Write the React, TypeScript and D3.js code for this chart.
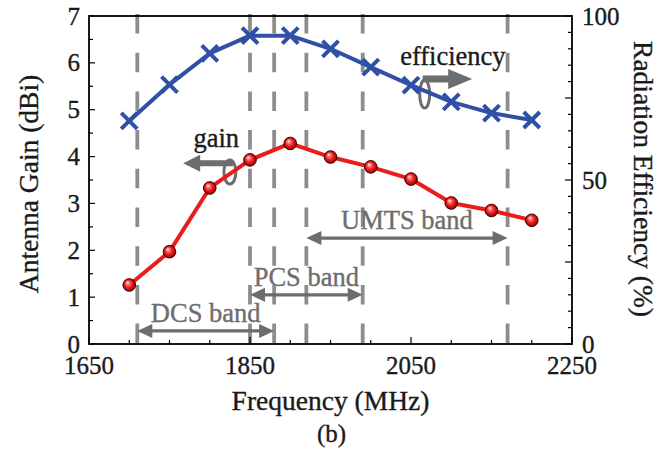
import React from "react";
import * as d3 from "d3";

// ---- data ----
const freqs = [1700, 1750, 1800, 1850, 1900, 1950, 2000, 2050, 2100, 2150, 2200];
const gain = [1.26, 1.97, 3.33, 3.93, 4.28, 3.99, 3.78, 3.52, 3.01, 2.85, 2.64];
const efficiency = [68.0, 79.1, 88.6, 94.0, 94.0, 90.0, 84.4, 78.9, 73.8, 70.4, 68.3];
const bandEdges = [1710, 1850, 1880, 1920, 1990, 2170];
const bandNames = ["DCS band", "PCS band", "UMTS band"];
const bandStarts = [1710, 1850, 1920];
const bandEnds = [1880, 1990, 2170];
const bandLevels = [0.28, 1.05, 2.26]; // gain units (annotation height)
const xTickLabels = [1650, 1850, 2050, 2250];
const yLeftTickLabels = [0, 1, 2, 3, 4, 5, 6, 7];
const yRightTickLabels = [0, 50, 100];

const W = 670;
const H = 450;
const L = 89, R = 572, T = 16, B = 344;
const FONT = "'Liberation Serif', 'Times New Roman', serif";
const GRAY = "#6d6d6d";
const DASH = "#8d8d8d";
const BLUE = "#2f50a6";
const RED = "#ec1c1c";
const INK = "#1a1a1a";

export default function App() {
  const x = d3.scaleLinear().domain([1650, 2250]).range([L, R]);
  const yL = d3.scaleLinear().domain([0, 7]).range([B, T]);
  const yR = d3.scaleLinear().domain([0, 100]).range([B, T]);

  const gainLine = d3.line<number>().x((_, i) => x(freqs[i])).y((d) => yL(d));
  const effLine = d3.line<number>().x((_, i) => x(freqs[i])).y((d) => yR(d));

  const xMinor = d3.range(1650, 2251, 50);
  const yLMinor = d3.range(0, 7.01, 0.5);
  const yRMinor = d3.range(0, 100.1, 5);

  const arrowH = (x1: number, x2: number, y: number, key: string) => {
    const hl = 15, hw = 7;
    return (
      <g key={key}>
        <line x1={x1 + hl - 2} x2={x2 - hl + 2} y1={y} y2={y} stroke={GRAY} strokeWidth={3.2} />
        <path d={`M${x1},${y} L${x1 + hl},${y - hw} L${x1 + hl},${y + hw} Z`} fill={GRAY} />
        <path d={`M${x2},${y} L${x2 - hl},${y - hw} L${x2 - hl},${y + hw} Z`} fill={GRAY} />
      </g>
    );
  };

  // gain annotation icon (points left)
  const gTipX = x(1767), gTipY = yL(3.86);
  const gLoopX = x(1825), gLoopY = yL(3.67);
  // efficiency annotation icon (points right)
  const eLoopX = x(2067), eLoopY = yR(76.2);
  const eTipX = x(2126), eTipY = yR(80.8);

  const ts = { stroke: INK, strokeWidth: 0.35 } as const;
  const gs = { stroke: GRAY, strokeWidth: 0.35 } as const;

  return (
    <div style={{ position: "absolute", left: 0, top: 0 }}>
      <svg width={W} height={H} style={{ display: "block", background: "#fff" }} fontFamily={FONT}>
        <defs>
          <radialGradient id="ball" cx="50%" cy="50%" r="55%" fx="35%" fy="30%">
            <stop offset="0%" stopColor="#ffffff" />
            <stop offset="22%" stopColor="#ff8080" />
            <stop offset="55%" stopColor="#ee1c1c" />
            <stop offset="100%" stopColor="#7a0000" />
          </radialGradient>
        </defs>

        {/* band edge dashed lines */}
        {bandEdges.map((f) => (
          <line key={f} x1={x(f)} x2={x(f)} y1={T - 2} y2={B} stroke={DASH} strokeWidth={3.8}
            strokeDasharray="19.5 19.2" />
        ))}

        {/* band arrows + labels */}
        {bandNames.map((n, i) => {
          const x1 = x(bandStarts[i]);
          const x2 = x(bandEnds[i]);
          const y = yL(bandLevels[i]);
          return (
            <g key={n}>
              {arrowH(x1, x2, y, n)}
              <text x={(x1 + x2) / 2} y={y - 9} textAnchor="middle" fontSize={26.5} fill={GRAY} {...gs}>{n}</text>
            </g>
          );
        })}

        {/* gain icon */}
        <ellipse cx={gLoopX} cy={gLoopY} rx={6} ry={12} fill="none" stroke={GRAY} strokeWidth={3} />
        <line x1={gTipX + 14} x2={gLoopX + 3} y1={gTipY} y2={gTipY} stroke={GRAY} strokeWidth={6} />
        <path d={`M${gTipX},${gTipY} L${gTipX + 17},${gTipY - 8.5} L${gTipX + 17},${gTipY + 8.5} Z`} fill={GRAY} />
        <text x={x(1808)} y={yL(4.2)} textAnchor="middle" fontSize={26.5} fill={INK} {...ts}>gain</text>

        {/* efficiency icon */}
        <ellipse cx={eLoopX} cy={eLoopY} rx={5} ry={14} fill="none" stroke={GRAY} strokeWidth={3} />
        <line x1={eLoopX - 2} x2={eTipX - 20} y1={eTipY} y2={eTipY} stroke={GRAY} strokeWidth={7} />
        <path d={`M${eTipX},${eTipY} L${eTipX - 24},${eTipY - 10} L${eTipX - 24},${eTipY + 10} Z`} fill={GRAY} />
        <text x={x(2102)} y={yR(85.1)} textAnchor="middle" fontSize={26.5} fill={INK} {...ts}>efficiency</text>

        {/* data lines */}
        <path d={effLine(efficiency) || ""} fill="none" stroke={BLUE} strokeWidth={4} strokeLinejoin="round" />
        <path d={gainLine(gain) || ""} fill="none" stroke={RED} strokeWidth={4} strokeLinejoin="round" />

        {/* efficiency markers */}
        {efficiency.map((v, i) => {
          const cx = x(freqs[i]);
          const cy = yR(v);
          const s = 8;
          return (
            <path key={"e" + i} d={`M${cx - s},${cy - s}L${cx + s},${cy + s}M${cx - s},${cy + s}L${cx + s},${cy - s}`}
              stroke={BLUE} strokeWidth={4} />
          );
        })}

        {/* gain markers */}
        {gain.map((v, i) => (
          <circle key={"g" + i} cx={x(freqs[i])} cy={yL(v)} r={6.3} fill="url(#ball)" stroke="#3a0000" strokeWidth={1} />
        ))}

        {/* frame */}
        <rect x={L} y={T} width={R - L} height={B - T} fill="none" stroke="#000" strokeWidth={1.8} />

        {/* x ticks */}
        {xMinor.map((f) => (
          <line key={"xt" + f} x1={x(f)} x2={x(f)} y1={B} y2={B - (xTickLabels.includes(f) ? 7 : 4)} stroke="#000" strokeWidth={1.2} />
        ))}
        {xTickLabels.map((f) => (
          <text key={"xl" + f} x={x(f)} y={374} textAnchor="middle" fontSize={25} fill={INK} {...ts}>{f}</text>
        ))}

        {/* left ticks */}
        {yLMinor.map((v) => (
          <line key={"yl" + v} x1={L} x2={L + (Number.isInteger(v) ? 6 : 4)} y1={yL(v)} y2={yL(v)} stroke="#000" strokeWidth={1.2} />
        ))}
        {yLeftTickLabels.map((v) => (
          <text key={"yll" + v} x={80} y={yL(v) + 8.5} textAnchor="end" fontSize={25} fill={INK} {...ts}>{v}</text>
        ))}

        {/* right ticks */}
        {yRMinor.map((v) => (
          <line key={"yr" + v} x1={R} x2={R - (v % 25 === 0 ? 7 : 4)} y1={yR(v)} y2={yR(v)} stroke="#000" strokeWidth={1.2} />
        ))}
        {yRightTickLabels.map((v) => (
          <text key={"yrl" + v} x={582} y={yR(v) + 8.5} textAnchor="start" fontSize={25} fill={INK} {...ts}>{v}</text>
        ))}

        {/* axis titles */}
        <text x={(L + R) / 2} y={410} textAnchor="middle" fontSize={27.5} fill={INK} {...ts}>Frequency (MHz)</text>
        <text x={(L + R) / 2 + 1} y={442} textAnchor="middle" fontSize={25} fill={INK} {...ts}>(b)</text>
        <text transform={`translate(38,184) rotate(-90)`} textAnchor="middle" fontSize={27.5} fill={INK} {...ts}>Antenna Gain (dBi)</text>
        <text transform={`translate(634,179) rotate(90)`} textAnchor="middle" fontSize={27.5} fill={INK} {...ts}>Radiation Efficiency (%)</text>
      </svg>
    </div>
  );
}
